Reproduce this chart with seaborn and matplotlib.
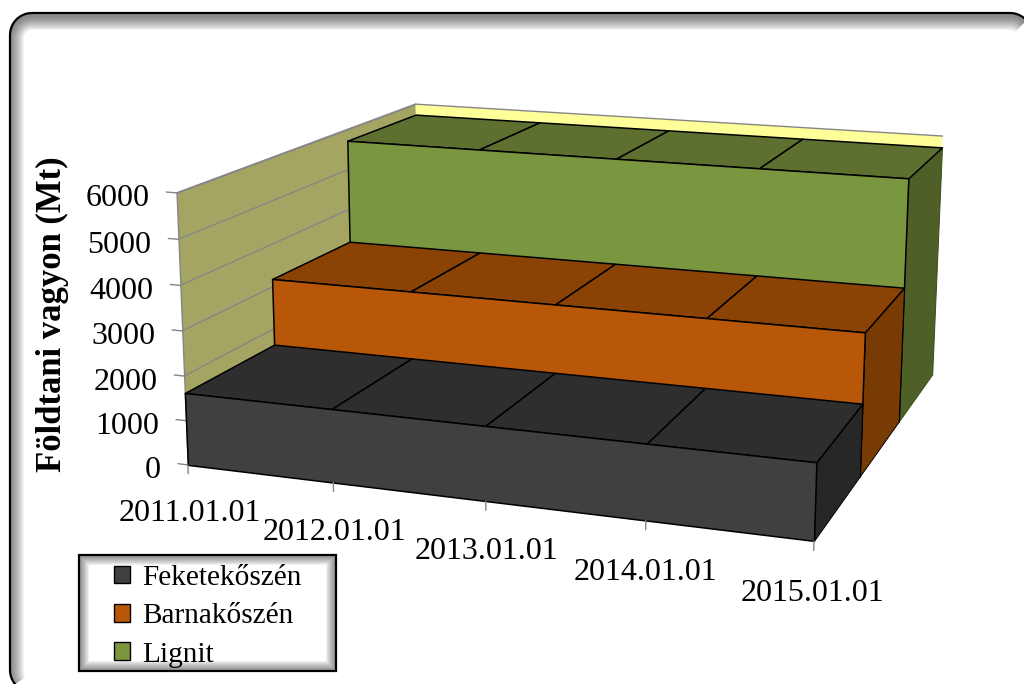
import numpy as np
import matplotlib
matplotlib.use('Agg')
import matplotlib.pyplot as plt
import seaborn as sns
from matplotlib.patches import Patch, Polygon, Rectangle
from mpl_toolkits.mplot3d import proj3d
from mpl_toolkits.mplot3d.art3d import Poly3DCollection

dates = ['2011.01.01', '2012.01.01', '2013.01.01', '2014.01.01', '2015.01.01']
names = ['Feketekőszén', 'Barnakőszén', 'Lignit']
fekete = [1622, 1622, 1622, 1622, 1622]
barna = [3188, 3188, 3188, 3188, 3188]
lignit = [5722, 5722, 5722, 5722, 5722]
y_ticks = [0, 1000, 2000, 3000, 4000, 5000, 6000]
y_label = 'Földtani vagyon (Mt)'

sns.set_theme(style='white')
plt.rcParams['font.family'] = ['Liberation Serif', 'DejaVu Sans']

front = sns.color_palette(['#404040', '#B85708', '#7A963E'])
top = sns.color_palette(['#2E2E2E', '#8B4205', '#5E702F'])
side = sns.color_palette(['#272727', '#793B04', '#4E5F28'])
side_edge = ['black', 'black', '#3A4A1A']
GRID = '#868686'

W, H = 1024, 684
fig = plt.figure(figsize=(W / 100, H / 100), dpi=100)

# background layer in pixels: rounded frame and legend box with inner shadows
bg = fig.add_axes([0, 0, 1, 1], zorder=-1)
bg.set_xlim(0, W)
bg.set_ylim(H, 0)
bg.axis('off')


def rounded(x0, y0, x1, y1, r, **kw):
    # plain polygon, curved patches get broken when they run off the canvas
    pts = []
    for cx, cy, a0 in [(x1 - r, y0 + r, -90), (x1 - r, y1 - r, 0), (x0 + r, y1 - r, 90), (x0 + r, y0 + r, 180)]:
        a = np.radians(np.linspace(a0, a0 + 90, 16))
        pts += list(zip(cx + r * np.cos(a), cy + r * np.sin(a)))
    return Polygon(pts, closed=True, **kw)


frame = rounded(10, 13, 1032, 692, 22, fc='white', ec='none')
bg.add_patch(frame)
for w in range(2, 30, 2):
    s = rounded(10, 16, 1032, 695, 22, fc='none', ec='#303030', alpha=0.055, lw=w * 0.72)
    bg.add_patch(s)
    s.set_clip_path(frame)
bg.add_patch(rounded(10, 13, 1032, 692, 22, fc='none', ec='black', lw=1.6))

box = Rectangle((79, 555), 257, 116, fc='white', ec='none')
bg.add_patch(box)
for w in range(2, 22, 2):
    s = Rectangle((79, 555), 257, 116, fc='none', ec='#303030', alpha=0.07, lw=w * 0.72)
    bg.add_patch(s)
    s.set_clip_path(box)
bg.add_patch(Rectangle((79, 555), 257, 116, fc='none', ec='black', lw=1.6))

# 3d chart
S, cx, cy = 831.79, 574.97, 302.54
ax = fig.add_axes([(cx - S / 2) / W, 1 - (cy + S / 2) / H, S / W, S / H], projection='3d')
ax.set_axis_off()
ax.patch.set_visible(False)
ax.computed_zorder = False
ax.set_proj_type('persp', focal_length=0.4915)
ax.view_init(13.9275, -70.8689, -0.2301)
ax.set_box_aspect((1.1052, 1, 0.4782))


def face(pts, fc, z, ec='black', lw=1.1):
    ax.add_collection3d(Poly3DCollection([pts], facecolors=[fc], edgecolors=ec,
                                         linewidths=lw, zorder=z), autolim=False)


xs = np.arange(len(dates))
n_depth = len(names)
ax.set_xlim(0, 4)
ax.set_ylim(0, 3)
ax.set_zlim(0, 6000)
ax.apply_aspect()


def label(x, d, v, text, dx, dy, **kw):
    # project the 3d point, then put the text on the flat layer
    px, py, _ = proj3d.proj_transform(x, d, v, ax.get_proj())
    xy = bg.transData.inverted().transform(ax.transData.transform((px, py)))
    bg.annotate(text, xy=xy, xytext=(dx, dy), textcoords='offset pixels', color='black', **kw)


# walls and gridlines
ymax = y_ticks[-1]
face([(0, 0, 0), (0, n_depth, 0), (0, n_depth, ymax), (0, 0, ymax)], '#A5A563', 1, ec=GRID, lw=1.0)
face([(0, n_depth, 0), (xs[-1], n_depth, 0), (xs[-1], n_depth, ymax), (0, n_depth, ymax)], '#FFFF99', 1, ec='none')
ax.plot([0, xs[-1]], [n_depth, n_depth], [ymax, ymax], color=GRID, lw=1.0, zorder=2)
for v in y_ticks:
    ax.plot([0, 0], [0, n_depth], [v, v], color=GRID, lw=1.0, zorder=2)
    ax.plot([0, -0.07], [0, 0], [v, v], color=GRID, lw=1.0, zorder=2)
    label(0, 0, v, str(v), -27, -6, ha='right', va='center', fontsize=23)

# series, back to front
for i, vals in reversed(list(enumerate([fekete, barna, lignit]))):
    z = 10 + (n_depth - i) * 10
    face([(xs[-1], i, 0), (xs[-1], i + 1, 0), (xs[-1], i + 1, vals[-1]), (xs[-1], i, vals[-1])],
         side[i], z, ec=side_edge[i], lw=0.7)
    for j in range(len(xs) - 1):
        face([(xs[j], i, vals[j]), (xs[j + 1], i, vals[j + 1]),
              (xs[j + 1], i + 1, vals[j + 1]), (xs[j], i + 1, vals[j])], top[i], z + 1)
    pts = [(xs[0], i, 0)] + [(x, i, v) for x, v in zip(xs, vals)] + [(xs[-1], i, 0)]
    face(pts, front[i], z + 2)

# category ticks
for x, lab in zip(xs, dates):
    ax.plot([x, x], [0, 0], [0, -200], color=GRID, lw=1.0, zorder=60)
    label(x, 0, -1000, lab, 0, -5, ha='center', va='center', fontsize=23)

fig.text(52 / W, 1 - 314 / H, y_label, rotation=90, ha='center', va='center',
         fontsize=24.9, fontweight='bold', color='black')

handles = [Patch(fc=c, ec='black', lw=1.0) for c in front]
fig.legend(handles, names, loc='upper left', bbox_to_anchor=(114 / W, 1 - 565 / H),
           frameon=False, borderpad=0, borderaxespad=0, fontsize=21.2,
           handlelength=0.55, handleheight=0.55, handletextpad=0.42, labelspacing=0.42,
           labelcolor='black')

fig.savefig('out.png', dpi=100)
